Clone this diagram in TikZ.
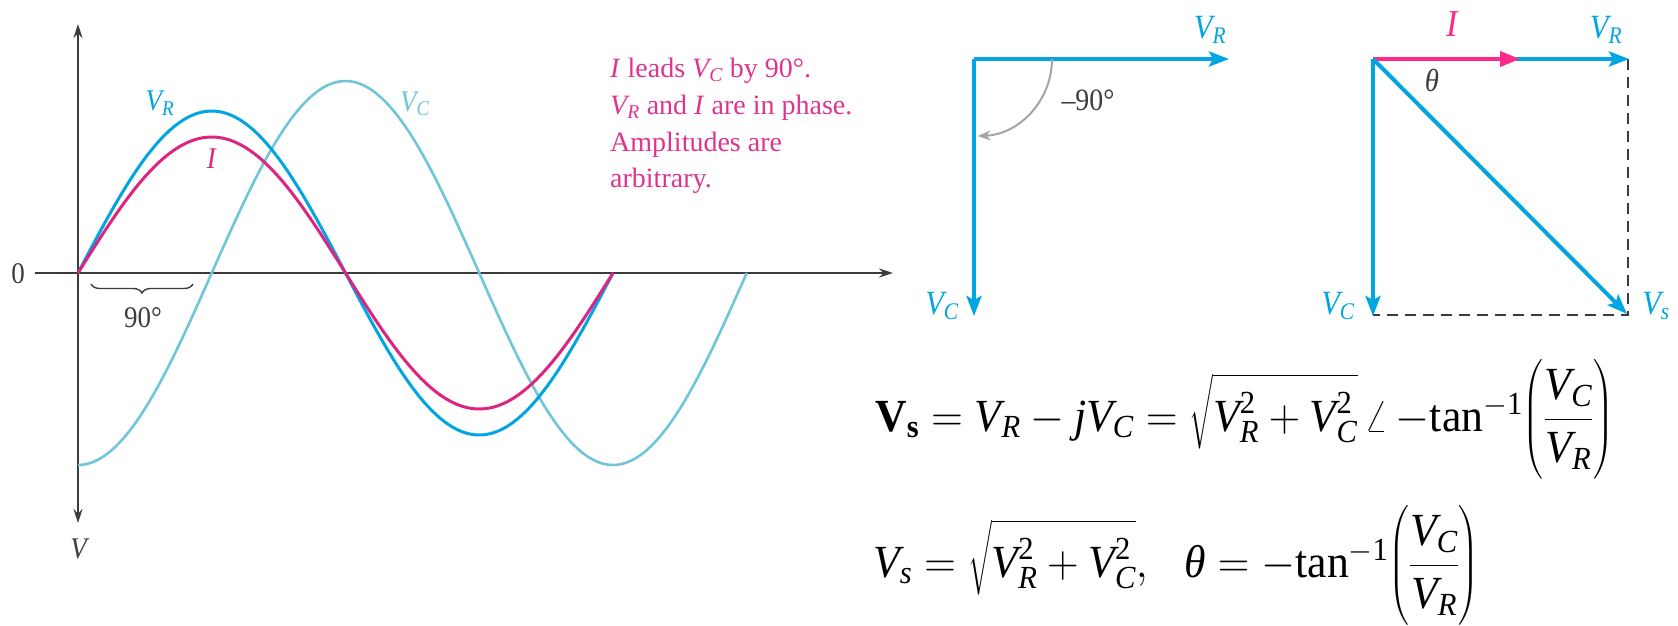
\documentclass[tikz,border=0pt]{standalone}
\usepackage{fix-cm}
\usepackage{amsmath}
\usepackage{graphicx}
\usepackage{fontspec}
\setmainfont{Liberation Serif}
\newfontfamily\labfont[FakeStretch=0.9]{Liberation Serif}
\usetikzlibrary{arrows.meta,decorations.pathreplacing}
\definecolor{vrblue}{RGB}{0,165,225}
\definecolor{ipink}{RGB}{221,36,128}
\definecolor{vcteal}{RGB}{112,198,216}
\definecolor{txtpink}{RGB}{222,52,141}
\definecolor{axgray}{RGB}{60,60,60}
\definecolor{arcgray}{RGB}{165,165,165}
\definecolor{iarrow}{RGB}{255,40,140}
\newcommand\Vx[1]{\ensuremath{\text{\itshape V}_{\text{\itshape #1}}}}
\newcommand\fs[1]{\fontsize{#1}{#1}\selectfont}
\newcommand\fracVV{\left(\dfrac{\rule{0pt}{0.78em}\Vx{C}}{\Vx{R}\rule[-0.32em]{0pt}{0pt}}\right)}
\newcommand\rootVV{\sqrt{\rule{0pt}{1.02em}\Vx{R}^{\text{2}} + \Vx{C}^{\text{2}}}}
\tikzset{
  axis/.style={draw=axgray, line width=1.6pt},
  axtip/.style={-{Stealth[length=14pt,width=9pt]}},
  wave/.style={line width=3pt},
  phasor/.style={draw=vrblue, line width=4pt, -{Stealth[length=20pt,width=15pt,inset=4pt]}},
  dashln/.style={draw=axgray, line width=1.8pt, dash pattern=on 11pt off 7pt},
  lab/.style={inner sep=0pt, font=\labfont\fs{30}},
  plab/.style={inner sep=0pt, font=\labfont\fs{34}, text=vrblue},
  eq/.style={inner sep=0pt, font=\fs{46}, anchor=base west},
  note/.style={inner sep=0pt, font=\fs{28}, text=txtpink, anchor=base west}
}
\begin{document}
\begin{tikzpicture}[x=1pt,y=-1pt]
\useasboundingbox (0,0) rectangle (1678,625);
% ---------- axes ----------
\coordinate (ytop) at (78,24);
\coordinate (ybot) at (78,523);
\coordinate (xl) at (35,273);
\coordinate (xr) at (893,273);
\coordinate (O) at (78,273);
\draw[axis, {Stealth[length=14pt,width=9pt]}-{Stealth[length=14pt,width=9pt]}] (ybot) -- (ytop);
\draw[axis, axtip] (xl) -- (xr);
\node[lab, text=axgray] (zero) at (18,274) {0};
\node[lab, text=axgray] (vax) at (80,549) {\textit{V}};
% ---------- waves ----------
\draw[wave, draw=vcteal, line width=2.6pt] plot[domain=0:450, samples=160] ({78+\x*1.4861}, {273+192*cos(\x)});
\draw[wave, draw=vrblue] plot[domain=0:360, samples=140] ({78+\x*1.4861}, {273-162*sin(\x)});
\draw[wave, draw=ipink] plot[domain=0:360, samples=140] ({78+\x*1.4861}, {273-136*sin(\x)});
% brace
\coordinate (b1) at (91,284);
\coordinate (b2) at (193,284);
\draw[draw=axgray, line width=1.4pt, decorate, decoration={brace, mirror, amplitude=9pt}] (b1) -- (b2);
\node[lab, text=axgray] (ninety) at (143,318) {90°};
% wave labels
\node[lab, text=vrblue] (lvr) at (160,103) {\Vx{R}};
\node[lab, text=ipink] (li) at (212,159) {\textit{I}};
\node[lab, text=vcteal] (lvc) at (415,104) {\Vx{C}};
% note
\node[note] (n1) at (610,77) {\textit{I} leads \Vx{C} by 90°.};
\node[note] (n2) at (610,114) {\Vx{R} and \textit{I} are in phase.};
\node[note] (n3) at (610,151) {Amplitudes are};
\node[note] (n4) at (610,187) {arbitrary.};
% ---------- phasor diagram 1 ----------
\coordinate (A) at (974,59);
\coordinate (Avr) at (1229,59);
\coordinate (Avc) at (974,316);
\draw[phasor] (A) -- (Avr);
\draw[phasor] (A) -- (Avc);
\draw[draw=arcgray, line width=2pt, -{Stealth[length=13pt,width=10pt]}] (1052,59) arc[start angle=0, end angle=-88, radius=77pt];
\node[plab] (p1vr) at (1210,30) {\Vx{R}};
\node[plab] (p1vc) at (942,306) {\Vx{C}};
\node[lab, text=axgray, font=\labfont\fs{31}] (m90) at (1088,100) {–90°};
% ---------- phasor diagram 2 ----------
\coordinate (B) at (1373,59);
\coordinate (Bvr) at (1629,59);
\coordinate (Bi) at (1520,59);
\coordinate (Bvc) at (1373,316);
\coordinate (Bvs) at (1627,314);
\coordinate (Bcorner) at (1628,59);
\coordinate (Bfar) at (1628,315);
\draw[dashln] (Bcorner) -- (Bfar) -- (B |- Bfar);
\draw[phasor] (B) -- (Bvr);
\draw[draw=iarrow, line width=4pt, -{Triangle[length=20pt,width=15pt]}] (B) -- (Bi);
\draw[phasor] (B) -- (Bvc);
\draw[phasor] (B) -- (Bvs);
\node[plab, text=iarrow, font=\labfont\fs{38}] (p2i) at (1453,24) {\textit{I}};
\node[plab] (p2vr) at (1606,30) {\Vx{R}};
\node[plab] (p2vc) at (1338,306) {\Vx{C}};
\node[plab] (p2vs) at (1656,306) {\Vx{s}};
\node[lab, text=axgray, font=\labfont\fs{32}] (th) at (1432,80) {\textit{θ}};
% ---------- equations ----------
\node[eq] (eq1) at (875,431) {\scalebox{0.95}[1]{$\text{\bfseries V}_{\text{\bfseries s}} = \Vx{R} - \text{\itshape j}\Vx{C} = \rootVV\,\angle\,{-}\text{tan}^{-\text{1}}\!\fracVV$}};
\node[eq] (eq2) at (873,577) {\scalebox{0.95}[1]{$\Vx{s} = \rootVV,\enspace\, \text{\itshape θ} = -\text{tan}^{-\text{1}}\!\fracVV$}};
\end{tikzpicture}
\end{document}
